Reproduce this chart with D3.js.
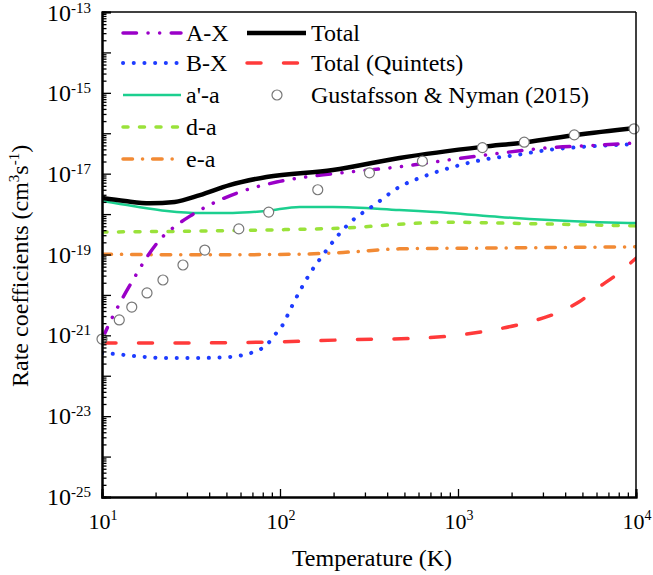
<!DOCTYPE html>
<html>
<head>
<meta charset="utf-8">
<script src="https://cdn.jsdelivr.net/npm/d3@7"></script>
<style>
  html, body { margin: 0; padding: 0; background: #fff; }
  svg { display: block; }
</style>
</head>
<body>
<svg id="chart" width="653" height="575"></svg>
<script>
// ---------------- data (T in K, k in cm^3 s^-1) ----------------
const totalT = [10, 13.5, 18.6, 25.6, 35.5, 52, 84, 198, 469, 1371, 2420, 4615, 10000];
const totalK = [2.5e-18, 2.1e-18, 1.86e-18, 2.0e-18, 2.95e-18, 5.2e-18, 8.3e-18, 1.23e-17, 2.45e-17, 4.6e-17, 6.0e-17, 9.1e-17, 1.35e-16];

const axT = [10, 10.4, 12.6, 14.9, 17.9, 21.1, 26.4, 31.2, 40.4, 59.4, 95.7, 141, 246, 469, 895, 1706, 3258, 6209, 10000];
const axK = [7.6e-22, 1.15e-21, 6.3e-21, 2.3e-20, 8.7e-20, 2.3e-19, 5.4e-19, 8.9e-19, 1.7e-18, 3.5e-18, 6.2e-18, 8.3e-18, 1.1e-17, 1.48e-17, 2.2e-17, 3.2e-17, 4.4e-17, 5.1e-17, 5.75e-17];

const bxT = [10, 11.4, 14.9, 23.2, 34.1, 50.9, 67.6, 76.9, 85.3, 93.3, 102, 116, 132, 152, 178, 208, 246, 340, 469, 631, 895, 1371, 2128, 3258, 4989, 10000];
const bxK = [3.6e-22, 3.5e-22, 3.1e-22, 2.75e-22, 2.75e-22, 2.9e-22, 3.6e-22, 4.4e-22, 6.2e-22, 1.02e-21, 1.62e-21, 5.0e-21, 1.48e-20, 4.2e-20, 1.1e-19, 2.7e-19, 6.0e-19, 1.7e-18, 4.7e-18, 8.3e-18, 1.38e-17, 2.2e-17, 2.9e-17, 3.9e-17, 4.6e-17, 5.4e-17];

const apaT = [10, 14.9, 23.2, 35.5, 54.3, 84, 129, 198, 469, 895, 1706, 3258, 6209, 10000];
const apaK = [2.1e-18, 1.58e-18, 1.2e-18, 1.07e-18, 1.07e-18, 1.2e-18, 1.5e-18, 1.5e-18, 1.26e-18, 1.07e-18, 8.5e-19, 7.1e-19, 6.3e-19, 6.0e-19];

const daT = [10, 35.5, 100, 246, 469, 895, 1706, 3707, 10000];
const daK = [3.6e-19, 3.8e-19, 4.1e-19, 4.6e-19, 5.6e-19, 6.3e-19, 6.0e-19, 5.6e-19, 5.1e-19];

const eaT = [10, 35.5, 129, 246, 469, 1706, 10000];
const eaK = [1.02e-19, 9.8e-20, 1.02e-19, 1.15e-19, 1.38e-19, 1.45e-19, 1.55e-19];

const quinT = [10, 35.5, 100, 246, 608, 1019, 1706, 2512, 3565, 4797, 6209, 7727, 10000];
const quinK = [6.5e-22, 6.5e-22, 6.9e-22, 7.8e-22, 8.5e-22, 1.02e-21, 1.45e-21, 2.14e-21, 3.5e-21, 6.8e-21, 1.58e-20, 3.1e-20, 8.1e-20];

const gnT = [10, 12.5, 14.7, 17.9, 22.0, 28.5, 37.8, 58.7, 86.4, 163, 318, 631, 1371, 2355, 4500, 9750];
const gnK = [8.1e-22, 2.4e-21, 5.0e-21, 1.12e-20, 2.34e-20, 5.5e-20, 1.29e-19, 4.3e-19, 1.12e-18, 4.0e-18, 1.05e-17, 2.04e-17, 4.4e-17, 6.0e-17, 9.1e-17, 1.29e-16];

const xTickVals = [10, 100, 1000, 10000];
const xTickExp = ["1", "2", "3", "4"];
const yLabelVals = [1e-13, 1e-15, 1e-17, 1e-19, 1e-21, 1e-23, 1e-25];
const yLabelExp = ["-13", "-15", "-17", "-19", "-21", "-23", "-25"];

const seriesNames = ["A-X", "B-X", "a'-a", "d-a", "e-a", "Total", "Total (Quintets)", "Gustafsson & Nyman (2015)"];

// ---------------- layout ----------------
const FONT = "Liberation Serif, Times New Roman, Times, Tinos, Nimbus Roman, Nimbus Roman No9 L, FreeSerif, DejaVu Serif, Noto Serif, serif";
const svg = d3.select("#chart");
const L = 102, R = 636, T = 12, B = 497;

const x = d3.scaleLog().domain([10, 1e4]).range([L, R]);
const y = d3.scaleLog().domain([1e-25, 1e-13]).range([B, T]);

svg.append("defs").append("clipPath").attr("id", "clip")
  .append("rect").attr("x", L).attr("y", T).attr("width", R - L).attr("height", B - T);

const styles = {
  "A-X":  {color: "#9a00c8", width: 3.5, dash: "13.5,11.5,0.1,11.5,0.1,11.5"},
  "B-X":  {color: "#1e3cff", width: 4,   dash: "0.1,10.6"},
  "a'-a": {color: "#1ccf8f", width: 2.5, dash: null},
  "d-a":  {color: "#9ae23a", width: 3.5, dash: "5,11.5"},
  "e-a":  {color: "#f28a34", width: 3.5, dash: "9.5,10,0.1,10"},
  "Total": {color: "#000000", width: 4.5, dash: null},
  "Total (Quintets)": {color: "#ff3a3a", width: 3.5, dash: "14,22.5"}
};

const line = d3.line().x(d => x(d[0])).y(d => y(d[1])).curve(d3.curveMonotoneX);
const zip = (a, b) => a.map((v, i) => [v, b[i]]);

const curves = [
  ["e-a", zip(eaT, eaK)],
  ["d-a", zip(daT, daK)],
  ["a'-a", zip(apaT, apaK)],
  ["Total (Quintets)", zip(quinT, quinK)],
  ["B-X", zip(bxT, bxK)],
  ["A-X", zip(axT, axK)],
  ["Total", zip(totalT, totalK)]
];

const gLines = svg.append("g").attr("clip-path", "url(#clip)");
curves.forEach(([name, data]) => {
  const s = styles[name];
  gLines.append("path").datum(data)
    .attr("d", line)
    .attr("fill", "none")
    .attr("stroke", s.color)
    .attr("stroke-width", s.width)
    .attr("stroke-linecap", s.dash ? "round" : "butt")
    .attr("stroke-linejoin", "round")
    .attr("stroke-dasharray", s.dash);
});

// data points
svg.append("g").selectAll("circle").data(zip(gnT, gnK)).join("circle")
  .attr("cx", d => x(d[0])).attr("cy", d => y(d[1])).attr("r", 5)
  .attr("fill", "#fff").attr("stroke", "#777").attr("stroke-width", 1.2);

// ---------------- frame ----------------
svg.append("line").attr("x1", L).attr("x2", R).attr("y1", T).attr("y2", T)
  .attr("stroke", "#000").attr("stroke-width", 1.5);
svg.append("line").attr("x1", R).attr("x2", R).attr("y1", T).attr("y2", B)
  .attr("stroke", "#000").attr("stroke-width", 1.5);

// ---------------- axes ----------------
const yMinor = [];
for (let e = -25; e < -13; e++) for (let m = 2; m <= 9; m++) yMinor.push(m * Math.pow(10, e));
const yDecades = d3.range(-25, -12).map(e => Math.pow(10, e));

const yAxisMinor = d3.axisLeft(y).tickValues(yMinor).tickSize(-4.5).tickFormat(() => "");
const yAxisMajor = d3.axisLeft(y).tickValues(yDecades).tickSize(-9).tickFormat(() => "");
const gyMin = svg.append("g").attr("transform", `translate(${L},0)`).call(yAxisMinor);
const gyMaj = svg.append("g").attr("transform", `translate(${L},0)`).call(yAxisMajor);
[gyMin, gyMaj].forEach(g => {
  g.select(".domain").attr("stroke-width", 2);
  g.selectAll(".tick line").attr("stroke-width", 1.3);
});

const xMinor = [];
for (let e = 1; e < 4; e++) for (let m = 2; m <= 9; m++) xMinor.push(m * Math.pow(10, e));
const xAxisMinor = d3.axisBottom(x).tickValues(xMinor).tickSize(-4.5).tickFormat(() => "");
const xAxisMajor = d3.axisBottom(x).tickValues(xTickVals).tickSize(-8).tickFormat(() => "");
const gxMin = svg.append("g").attr("transform", `translate(0,${B})`).call(xAxisMinor);
const gxMaj = svg.append("g").attr("transform", `translate(0,${B})`).call(xAxisMajor);
[gxMin, gxMaj].forEach(g => {
  g.select(".domain").attr("stroke-width", 2);
  g.selectAll(".tick line").attr("stroke-width", 1.3);
});

// y labels
yLabelVals.forEach((v, i) => {
  const t = svg.append("text").attr("x", L - 11).attr("y", y(v) + 8 + (i === 0 ? 1 : 0))
    .attr("text-anchor", "end").attr("font-family", FONT).attr("font-size", 24);
  t.append("tspan").text("10");
  t.append("tspan").attr("dy", -8).attr("font-size", 15).text(yLabelExp[i]);
});

// x labels
xTickVals.forEach((v, i) => {
  const t = svg.append("text").attr("x", x(v) + 1).attr("y", 529)
    .attr("text-anchor", "middle").attr("font-family", FONT).attr("font-size", 22);
  t.append("tspan").text("10");
  t.append("tspan").attr("dy", -9).attr("font-size", 14).text(xTickExp[i]);
});

// axis titles
svg.append("text").attr("x", 372).attr("y", 566).attr("text-anchor", "middle")
  .attr("font-family", FONT).attr("font-size", 24).text("Temperature (K)");

const yt = svg.append("text").attr("transform", "translate(28,387) rotate(-90)")
  .attr("text-anchor", "start").attr("font-family", FONT).attr("font-size", 24);
yt.append("tspan").text("Rate coefficients (cm");
yt.append("tspan").attr("dy", -9).attr("font-size", 15).text("3");
yt.append("tspan").attr("dy", 9).text("s");
yt.append("tspan").attr("dy", -9).attr("font-size", 15).text("-1");
yt.append("tspan").attr("dy", 9).text(")");

// ---------------- legend ----------------
const legendRows = [
  {name: "A-X", lx: 123, y: 33},
  {name: "B-X", lx: 123, y: 63},
  {name: "a'-a", lx: 123, y: 95},
  {name: "d-a", lx: 123, y: 127},
  {name: "e-a", lx: 123, y: 159},
  {name: "Total", lx: 247, y: 33},
  {name: "Total (Quintets)", lx: 247, y: 63},
  {name: "Gustafsson & Nyman (2015)", lx: 247, y: 95, marker: true}
];
const gLeg = svg.append("g");
legendRows.forEach(r => {
  const lineLen = r.lx === 123 ? 58 : 59;
  if (r.marker) {
    gLeg.append("circle").attr("cx", r.lx + 30).attr("cy", r.y).attr("r", 5)
      .attr("fill", "#fff").attr("stroke", "#777").attr("stroke-width", 1.2);
  } else {
    const s = styles[r.name];
    gLeg.append("line").attr("x1", r.lx).attr("x2", r.lx + lineLen)
      .attr("y1", r.y).attr("y2", r.y)
      .attr("stroke", s.color).attr("stroke-width", s.width)
      .attr("stroke-linecap", s.dash ? "round" : "butt")
      .attr("stroke-dasharray", s.dash);
  }
  gLeg.append("text").attr("x", r.lx + lineLen + 5).attr("y", r.y + 8)
    .attr("font-family", FONT).attr("font-size", 24).text(r.name);
});
</script>
</body>
</html>
